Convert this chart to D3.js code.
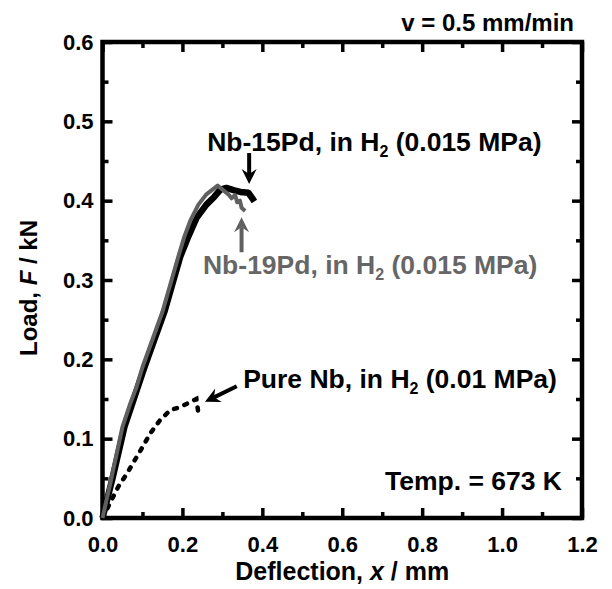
<!DOCTYPE html>
<html>
<head>
<meta charset="utf-8">
<script src="https://cdn.jsdelivr.net/npm/d3@7"></script>
<style>
  body { margin: 0; background: #fff; }
  text { font-family: "Liberation Sans", Arial, Helvetica, sans-serif; font-weight: bold; }
</style>
</head>
<body>
<div id="chart"></div>
<script>
// deflection (mm), load (kN)
const nb15Pd = [[0,0],[0.025,0.05],[0.055,0.115],[0.075,0.145],[0.105,0.19],[0.13,0.225],[0.155,0.26],
  [0.175,0.295],[0.195,0.33],[0.215,0.355],[0.235,0.378],[0.26,0.395],[0.28,0.405],[0.295,0.414],
  [0.31,0.416],[0.33,0.413],[0.345,0.411],[0.365,0.41],[0.375,0.403],[0.38,0.399]];
const nb19Pd = [[0,0],[0.02,0.045],[0.05,0.115],[0.07,0.145],[0.085,0.165],[0.10,0.19],[0.125,0.225],
  [0.15,0.26],[0.17,0.295],[0.19,0.33],[0.205,0.355],[0.22,0.375],[0.24,0.395],[0.26,0.408],
  [0.288,0.419],[0.30,0.414],[0.315,0.408],[0.323,0.403],[0.332,0.407],[0.337,0.398],[0.344,0.4],
  [0.348,0.391],[0.357,0.387]];
const pureNb = [[0,0],[0.02,0.02],[0.04,0.04],[0.06,0.055],[0.075,0.068],[0.095,0.085],[0.12,0.107],
  [0.145,0.124],[0.17,0.136],[0.195,0.14],[0.215,0.145],[0.235,0.15],[0.24,0.132]];

const xMajor = [0, 0.2, 0.4, 0.6, 0.8, 1.0, 1.2];
const xMinor = [0.1, 0.3, 0.5, 0.7, 0.9, 1.1];
const yMajor = [0, 0.1, 0.2, 0.3, 0.4, 0.5, 0.6];
const yMinor = [0.05, 0.15, 0.25, 0.35, 0.45, 0.55];

// annotation labels: [x, y] in data units (text start, baseline)
const labels = [
  { pos: [0.262, 0.463], main: "Nb-15Pd, in H", sub: "2", rest: " (0.015 MPa)", color: "#000" },
  { pos: [0.2515, 0.3076], main: "Nb-19Pd, in H", sub: "2", rest: " (0.015 MPa)", color: "#666" },
  { pos: [0.352, 0.164], main: "Pure Nb, in H", sub: "2", rest: " (0.01 MPa)", color: "#000" },
  { pos: [0.707, 0.0353], main: "Temp. = 673 K", sub: "", rest: "", color: "#000" }
];
// arrows: tail -> tip, data units
const arrows = [
  { from: [0.367, 0.46], to: [0.367, 0.421], color: "#000" },
  { from: [0.348, 0.335], to: [0.348, 0.379], color: "#606060" },
  { from: [0.336, 0.166], to: [0.2565, 0.1466], color: "#000" }
];

const W = 612, H = 589;
const margin = { top: 42, right: 30, bottom: 71, left: 102.5 };
const width = W - margin.left - margin.right;
const height = H - margin.top - margin.bottom;

const svg = d3.select("#chart").append("svg")
    .attr("width", W)
    .attr("height", H);
const g = svg.append("g")
    .attr("transform", `translate(${margin.left},${margin.top})`);

const x = d3.scaleLinear().domain([0, 1.2]).range([0, width]);
const y = d3.scaleLinear().domain([0, 0.6]).range([height, 0]);

// axes, ticks inward on all four sides
function styleAxis(sel) {
  sel.select(".domain").remove();
  sel.selectAll(".tick line").attr("stroke", "#000").attr("stroke-width", 3.5);
  sel.selectAll(".tick text").attr("fill", "#000").style("font-size", "22px");
}
g.append("g").attr("transform", `translate(0,${height})`)
  .call(d3.axisBottom(x).tickValues(xMajor).tickSize(-10).tickPadding(18).tickFormat(d3.format(".1f")))
  .call(styleAxis);
g.append("g").attr("transform", `translate(0,${height})`)
  .call(d3.axisBottom(x).tickValues(xMinor).tickSize(-6).tickFormat(""))
  .call(styleAxis);
g.append("g")
  .call(d3.axisTop(x).tickValues(xMajor).tickSize(-10).tickFormat(""))
  .call(styleAxis);
g.append("g")
  .call(d3.axisTop(x).tickValues(xMinor).tickSize(-6).tickFormat(""))
  .call(styleAxis);
g.append("g")
  .call(d3.axisLeft(y).tickValues(yMajor).tickSize(-10).tickPadding(9).tickFormat(d3.format(".1f")))
  .call(styleAxis);
g.append("g")
  .call(d3.axisLeft(y).tickValues(yMinor).tickSize(-6).tickFormat(""))
  .call(styleAxis);
g.append("g").attr("transform", `translate(${width},0)`)
  .call(d3.axisRight(y).tickValues(yMajor).tickSize(-10).tickFormat(""))
  .call(styleAxis);
g.append("g").attr("transform", `translate(${width},0)`)
  .call(d3.axisRight(y).tickValues(yMinor).tickSize(-6).tickFormat(""))
  .call(styleAxis);

// frame
g.append("rect")
  .attr("x", 0).attr("y", 0)
  .attr("width", width).attr("height", height)
  .attr("fill", "none").attr("stroke", "#000").attr("stroke-width", 4.5);

// curves
const line = d3.line().x(d => x(d[0])).y(d => y(d[1]));
g.append("path").datum(pureNb)
  .attr("d", line).attr("fill", "none").attr("stroke", "#000")
  .attr("stroke-width", 4.5).attr("stroke-dasharray", "3,8").attr("stroke-linecap", "round");
g.append("path").datum(nb15Pd)
  .attr("d", line).attr("fill", "none").attr("stroke", "#000")
  .attr("stroke-width", 6.5).attr("stroke-linejoin", "round");
g.append("path").datum(nb19Pd)
  .attr("d", line).attr("fill", "none").attr("stroke", "#606060")
  .attr("stroke-width", 4).attr("stroke-linejoin", "round");

// arrows
arrows.forEach(a => {
  const x1 = x(a.from[0]), y1 = y(a.from[1]), x2 = x(a.to[0]), y2 = y(a.to[1]);
  const ang = Math.atan2(y2 - y1, x2 - x1);
  const len = 15, half = 7.5, notch = 5;
  const ca = Math.cos(ang), sa = Math.sin(ang);
  const bx = x2 - len * ca, by = y2 - len * sa;
  g.append("line")
    .attr("x1", x1).attr("y1", y1)
    .attr("x2", x2 - (len - notch) * ca).attr("y2", y2 - (len - notch) * sa)
    .attr("stroke", a.color).attr("stroke-width", 4);
  const pts = [
    [x2, y2],
    [bx - half * sa, by + half * ca],
    [x2 - (len - notch) * ca, y2 - (len - notch) * sa],
    [bx + half * sa, by - half * ca]
  ];
  g.append("path").attr("d", "M" + pts.join("L") + "Z").attr("fill", a.color);
});

// labels
labels.forEach(l => {
  const t = g.append("text")
    .attr("x", x(l.pos[0])).attr("y", y(l.pos[1]))
    .attr("fill", l.color).style("font-size", "26.5px");
  t.append("tspan").text(l.main);
  if (l.sub) {
    t.append("tspan").attr("dy", 6).style("font-size", "16px").text(l.sub);
    t.append("tspan").attr("dy", -6).text(l.rest);
  }
});

// top-right note
svg.append("text")
  .attr("x", 574).attr("y", 31)
  .attr("text-anchor", "end").style("font-size", "24px")
  .text("v = 0.5 mm/min");

// axis titles
const xt = svg.append("text")
  .attr("x", margin.left + width / 2).attr("y", 580)
  .attr("text-anchor", "middle").style("font-size", "25px");
xt.append("tspan").text("Deflection, ");
xt.append("tspan").style("font-style", "italic").text("x");
xt.append("tspan").text(" / mm");

const yt = svg.append("text")
  .attr("transform", `translate(37,${margin.top + height / 2 + 8}) rotate(-90)`)
  .attr("text-anchor", "middle").style("font-size", "24px");
yt.append("tspan").text("Load, ");
yt.append("tspan").style("font-style", "italic").text("F");
yt.append("tspan").text(" / kN");
</script>
</body>
</html>
